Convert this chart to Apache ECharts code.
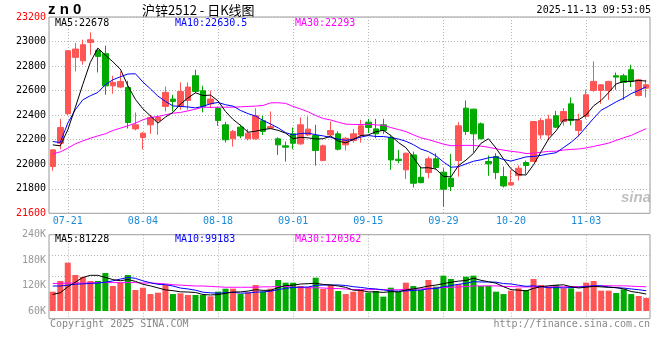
<!DOCTYPE html>
<html><head><meta charset="utf-8">
<script src="https://cdn.jsdelivr.net/npm/echarts@6/dist/echarts.min.js"></script>
<style>html,body{margin:0;padding:0;background:#fff;}#c{width:660px;height:360px;}</style>
</head><body><div id="c"></div>
<script>
// ---------- data ----------
const dates = ['07-17','07-18','07-21','07-22','07-23','07-24','07-25','07-28','07-29','07-30',
'07-31','08-01','08-04','08-05','08-06','08-07','08-08','08-11','08-12','08-13',
'08-14','08-15','08-18','08-19','08-20','08-21','08-22','08-25','08-26','08-27',
'08-28','08-29','09-01','09-02','09-03','09-04','09-05','09-08','09-09','09-10',
'09-11','09-12','09-15','09-16','09-17','09-18','09-19','09-22','09-23','09-24',
'09-25','09-26','09-29','09-30','10-09','10-10','10-13','10-14','10-15','10-16',
'10-17','10-20','10-21','10-22','10-23','10-24','10-27','10-28','10-29','10-30',
'10-31','11-03','11-04','11-05','11-06','11-07','11-10','11-11','11-12','11-13'];
const opens = [21981,22171,22411,22871,22843,22993,22928,22901,22639,22629,
22626,22288,22218,22321,22354,22471,22531,22471,22520,22721,
22599,22492,22454,22321,22207,22302,22207,22207,22354,22294,
22207,22150,22248,22166,22239,22234,22030,22239,22248,22158,
22193,22239,22343,22288,22321,22218,22041,21954,22076,21894,
21932,22044,21935,21886,22030,22457,22449,22329,22022,22063,
21899,21831,21907,22014,22022,22239,22239,22395,22348,22492,
22275,22389,22601,22601,22601,22721,22721,22770,22560,22620];
const closes = [22117,22299,22925,22939,22974,23015,22879,22639,22667,22675,
22340,22321,22253,22381,22381,22585,22512,22593,22629,22593,
22471,22531,22356,22199,22267,22231,22253,22395,22267,22307,
22158,22139,22171,22321,22286,22112,22150,22275,22122,22212,
22248,22313,22299,22248,22275,22035,22030,22090,21845,21850,
22044,21973,21796,21818,22313,22267,22248,22207,22003,21932,
21823,21850,21967,21989,22348,22356,22367,22302,22430,22356,
22356,22566,22675,22648,22675,22710,22667,22675,22688,22648];
const lows = [21946,22122,22400,22756,22811,22892,22748,22566,22574,22620,
22291,22275,22122,22248,22239,22430,22430,22444,22444,22580,
22422,22457,22313,22177,22144,22212,22193,22199,22239,22288,
22076,22022,22122,22158,22230,21989,22025,22230,22112,22112,
22177,22177,22253,22212,22248,21954,22008,21880,21810,21845,
21886,21959,21654,21782,21899,22239,22095,22204,21905,21878,
21810,21826,21867,21921,22020,22207,22199,22294,22313,22316,
22226,22370,22590,22492,22525,22607,22525,22629,22552,22544];
const highs = [22120,22370,22930,22988,23015,23075,22940,22966,22721,22756,
22680,22422,22260,22400,22400,22634,22566,22667,22667,22770,
22639,22599,22470,22346,22280,22321,22288,22457,22395,22430,
22220,22185,22299,22381,22389,22321,22160,22348,22267,22220,
22288,22362,22370,22370,22370,22239,22117,22095,22103,21981,
22063,22090,21967,22084,22343,22520,22452,22340,22071,22090,
21981,21954,21990,22030,22350,22375,22403,22435,22457,22544,
22411,22607,22838,22650,22680,22748,22737,22811,22696,22688];
const volumes = [105600,130800,174000,144900,140200,130800,130800,149600,119000,126800,
144900,109500,115000,100000,103200,121300,100000,101700,97700,97700,
97700,94600,105600,112700,112700,100000,104000,121300,105600,112700,
133100,126800,126800,119000,116600,138600,111900,121300,107200,100000,
105600,109500,103200,107200,93800,115000,105600,126800,119000,109500,
133100,117400,143400,135500,122900,141000,143400,119000,119000,105600,
100000,108000,113500,109500,135500,121300,117400,121300,113500,113500,
105600,126800,130800,108000,108000,102500,111100,100000,95400,90700];
// moving-average values at the start of the window
// (their history lies before the first visible day)
const ma5Lead  = [22158,22150,22280,22462];
const ma10Lead = [22185,22177,22335,22444,22525,22558,22585,22648,22688];
const ma30Lead = [22084,22101,22131,22166,22190,22212,22231,22248,22275,22294,
22313,22335,22362,22381,22389,22403,22416,22422,22435,22449,
22465,22463,22465,22465,22465,22468,22471,22474,22479];
const volMa5Lead  = [99000,103000,117000,128000];
const volMa10Lead = [119000,119000,121000,123000,124000,125000,126000,128000,131000];
const volMa30Lead = [125000,125000,126000,126000,126000,126000,127000,127000,127000,127000,
127000,127000,126000,126000,125000,124000,122000,121000,120000,119000,
119000,118000,117000,116000,116000,116000,116000,116000,117000];
const tickDates = ['07-21','08-04','08-18','09-01','09-15','09-29','10-20','11-03'];
const priceMin = 21600, priceMax = 23200, priceStep = 200;
const volMin = 60000, volMax = 240000, volStep = 60000;
const titleCode = 'z n 0';
const titleName = '沪锌2512 - 日K线图';
const timeStamp = '2025-11-13 09:53:05';
const priceMaLabels = ['MA5:22678','MA10:22630.5','MA30:22293'];
const volMaLabels = ['MA5:81228','MA10:99183','MA30:120362'];
const footLeft = 'Copyright 2025 SINA.COM';
const footRight = 'http://finance.sina.com.cn';

// ---------- derived ----------
function movingAvg(vals, n, lead) {
  return vals.map((v, i) => {
    if (i < n - 1) return lead[i];
    let s = 0; for (let k = i - n + 1; k <= i; k++) s += vals[k];
    return +(s / n).toFixed(1);
  });
}
const UP = '#ff5555', DOWN = '#00aa00';
const candles = dates.map((d, i) => [opens[i], closes[i], lows[i], highs[i]]);
const volBars = volumes.map((v, i) => ({value: v, itemStyle: {color: closes[i] >= opens[i] ? UP : DOWN}}));
const MONO = "'DejaVu Sans Mono', monospace";
const tickSet = new Set(tickDates);
const tickFn = (idx, val) => tickSet.has(val);
const dotted = {color: '#b4b4b4', width: 1, type: [1, 2]};
const L = 49, W = 601;

const chart = echarts.init(document.getElementById('c'), null, {renderer: 'canvas'});
const txt = (text, x, y, fill, font, align) => ({type: 'text', silent: true, z: 100,
  style: {text, x, y, fill, font, align: align || 'left', verticalAlign: 'middle',
          textAlign: align || 'left', textVerticalAlign: 'middle'}});

chart.setOption({
  animation: false,
  backgroundColor: '#fff',
  grid: [
    {left: L, width: W, top: 17, height: 196.3, show: true, borderColor: '#9a9a9a', borderWidth: 1, backgroundColor: 'transparent'},
    {left: L, width: W, top: 234.7, height: 76.3, show: false},
    {left: L, width: W, top: 234.7, height: 84, show: true, borderColor: '#9a9a9a', borderWidth: 1, backgroundColor: 'transparent'}
  ],
  xAxis: [
    {type: 'category', gridIndex: 0, data: dates, boundaryGap: true,
     axisLine: {show: false}, axisTick: {show: false},
     axisLabel: {interval: tickFn, color: '#1b8ad6', fontFamily: MONO, fontSize: 10, margin: 3, hideOverlap: false},
     splitLine: {show: true, interval: tickFn, alignWithLabel: true, lineStyle: dotted}},
    {type: 'category', gridIndex: 1, data: dates, boundaryGap: true, show: false},
    {type: 'category', gridIndex: 2, data: dates, boundaryGap: true,
     axisLine: {show: false}, axisTick: {show: false}, axisLabel: {show: false},
     splitLine: {show: true, interval: tickFn, alignWithLabel: true, lineStyle: dotted}}
  ],
  yAxis: [
    {type: 'value', gridIndex: 0, min: priceMin, max: priceMax, interval: priceStep, scale: true,
     axisLine: {show: false}, axisTick: {show: false},
     axisLabel: {margin: 3, fontFamily: MONO, fontSize: 10, formatter: (v) => String(v),
       color: (v) => (+v === priceMin || +v === priceMax) ? '#ff0000' : '#000000'},
     splitLine: {show: true, lineStyle: dotted}},
    {type: 'value', gridIndex: 1, min: volMin, max: volMax, interval: volStep,
     axisLine: {show: false}, axisTick: {show: false},
     axisLabel: {margin: 3, fontFamily: MONO, fontSize: 10, color: '#999999',
       formatter: (v) => (v / 1000) + 'K'},
     splitLine: {show: false}},
    {type: 'value', gridIndex: 2, min: 0, max: 4, interval: 1,
     axisLine: {show: false}, axisTick: {show: false}, axisLabel: {show: false},
     splitLine: {show: true, lineStyle: dotted}}
  ],
  series: [
    {type: 'candlestick', xAxisIndex: 0, yAxisIndex: 0, data: candles, barWidth: 6,
     itemStyle: {color: UP, color0: DOWN, borderColor: UP, borderColor0: DOWN, borderWidth: 1}},
    {type: 'line', xAxisIndex: 0, yAxisIndex: 0, data: movingAvg(closes, 30, ma30Lead), showSymbol: false, symbol: 'none',
     lineStyle: {color: '#ff00ff', width: 1}},
    {type: 'line', xAxisIndex: 0, yAxisIndex: 0, data: movingAvg(closes, 10, ma10Lead), showSymbol: false, symbol: 'none',
     lineStyle: {color: '#0000ff', width: 1}},
    {type: 'line', xAxisIndex: 0, yAxisIndex: 0, data: movingAvg(closes, 5, ma5Lead), showSymbol: false, symbol: 'none',
     lineStyle: {color: '#000000', width: 1}},
    {type: 'bar', xAxisIndex: 1, yAxisIndex: 1, data: volBars, barWidth: 6},
    {type: 'line', xAxisIndex: 1, yAxisIndex: 1, data: movingAvg(volumes, 30, volMa30Lead), showSymbol: false, symbol: 'none',
     lineStyle: {color: '#ff00ff', width: 1}},
    {type: 'line', xAxisIndex: 1, yAxisIndex: 1, data: movingAvg(volumes, 10, volMa10Lead), showSymbol: false, symbol: 'none',
     lineStyle: {color: '#0000ff', width: 1}},
    {type: 'line', xAxisIndex: 1, yAxisIndex: 1, data: movingAvg(volumes, 5, volMa5Lead), showSymbol: false, symbol: 'none',
     lineStyle: {color: '#000000', width: 1}}
  ],
  graphic: [
    txt(titleCode, 48, 10, '#000', "bold 15px 'Liberation Sans'"),
    txt(titleName, 142, 10, '#000', "13px 'Noto Sans CJK SC'"),
    txt(timeStamp, 651, 10, '#000', "10px " + MONO, 'right'),
    txt(priceMaLabels[0], 55, 23.5, '#000000', "10px " + MONO),
    txt(priceMaLabels[1], 175, 23.5, '#0000ff', "10px " + MONO),
    txt(priceMaLabels[2], 295, 23.5, '#ff00ff', "10px " + MONO),
    txt(volMaLabels[0], 55, 239, '#000000', "10px " + MONO),
    txt(volMaLabels[1], 175, 239, '#0000ff', "10px " + MONO),
    txt(volMaLabels[2], 295, 239, '#ff00ff', "10px " + MONO),
    txt(footLeft, 50, 324, '#888888', "10px " + MONO),
    txt(footRight, 650, 324, '#888888', "10px " + MONO, 'right'),
    txt('sina', 636, 198, 'rgba(170,170,170,0.75)', "italic bold 15px 'Liberation Sans'", 'center')
  ]
});
</script>
</body></html>
